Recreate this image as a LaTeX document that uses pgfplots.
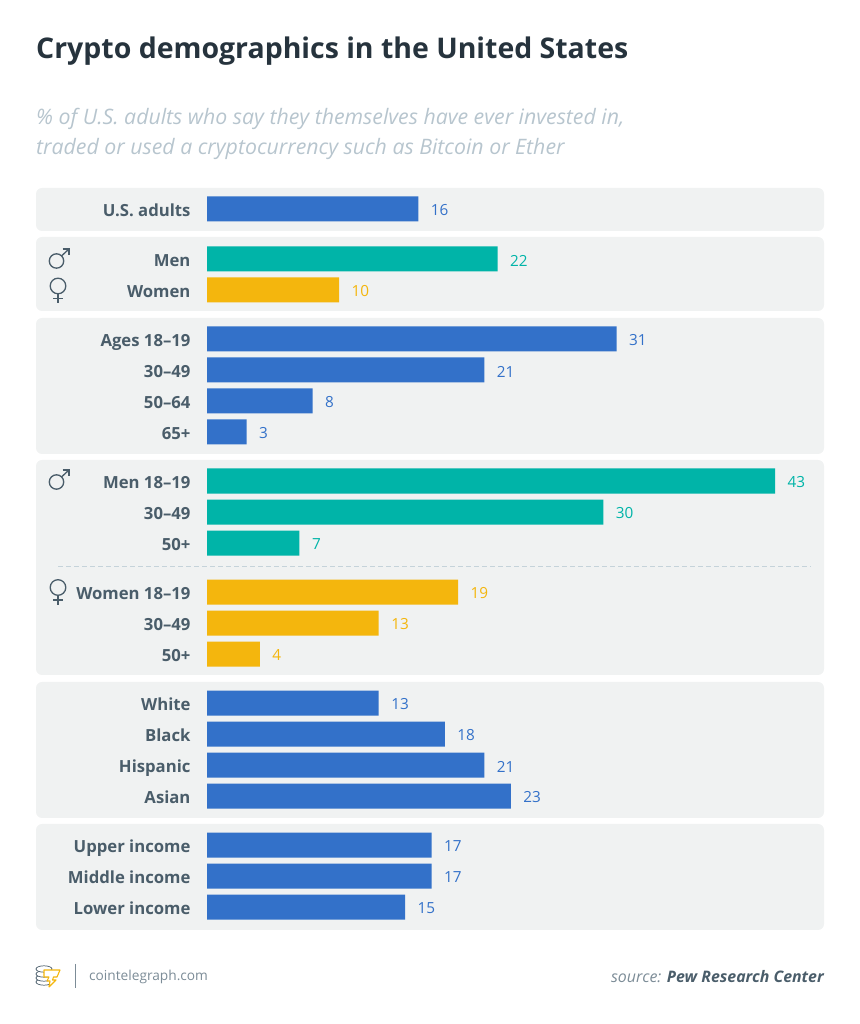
\documentclass[border=0pt]{standalone}
\usepackage{fontspec}
\setmainfont{Open Sans}
\usepackage{pgfplots}
\usepackage{pgfplotstable}
\pgfplotsset{compat=1.18}

\definecolor{cblue}{HTML}{3371C9}
\definecolor{cteal}{HTML}{00B4A8}
\definecolor{cyellow}{HTML}{F4B60D}
\definecolor{panel}{HTML}{F0F2F2}
\definecolor{labelc}{HTML}{4A5D6A}
\definecolor{titlec}{HTML}{26333D}
\definecolor{subc}{HTML}{B7C5CE}
\definecolor{dashc}{HTML}{C5D3DA}
\definecolor{greyc}{HTML}{7C8C97}

% pos = row centre of the bar in the picture
\pgfplotstableread{
pos val
209 16
339 31
370 21
401 8
432 3
703 13
734 18
765 21
796 23
845 17
876 17
907 15
}\blueseries
\pgfplotstableread{
pos val
259 22
481 43
512 30
543 7
}\tealseries
\pgfplotstableread{
pos val
290 10
592 19
623 13
654 4
}\yellowseries

\newcommand{\male}[2]{%
  \draw[labelc,line width=1.3pt] (#1,#2) circle[radius=7.2];
  \draw[labelc,line width=1.3pt] (#1+5,#2-5) -- (#1+12.5,#2-12);
  \draw[labelc,line width=1.3pt] (#1+6,#2-12) -- (#1+12.5,#2-12) -- (#1+12.5,#2-5.5);
}
\newcommand{\female}[2]{%
  \draw[labelc,line width=1.3pt] (#1,#2) circle[radius=7.8];
  \draw[labelc,line width=1.3pt] (#1,#2+7.8) -- (#1,#2+17.5);
  \draw[labelc,line width=1.3pt] (#1-5,#2+12.5) -- (#1+5,#2+12.5);
}

\begin{document}
\begin{tikzpicture}
\begin{scope}[x=1pt,y=-1pt,yshift=1024pt]
  \path[use as bounding box] (0,0) rectangle (859,1024);
  \node[anchor=west,inner sep=0,font=\fontsize{28.45}{32}\selectfont\bfseries,text=titlec] at (36,51) {Crypto demographics in the United States};
  \node[anchor=west,inner sep=0,font=\fontsize{21.3}{26}\selectfont\itshape,text=subc] at (36,118.5) {\% of U.S. adults who say they themselves have ever invested in,};
  \node[anchor=west,inner sep=0,font=\fontsize{21.3}{26}\selectfont\itshape,text=subc] at (36,148.5) {traded or used a cryptocurrency such as Bitcoin or Ether};
  \foreach \a/\b in {188/231,237/311,318/454,460/675,682/818,824/930}
    \fill[panel,rounded corners=6pt] (36,\a) rectangle (824,\b);
  \draw[dashc,line width=1pt,dash pattern=on 5pt off 3pt] (58,567) -- (811,567);
  \male{56.5}{261}
  \female{58}{286}
  \male{56.5}{482}
  \female{58}{587.5}
  % footer
  \foreach \yy in {982,978,974,969}
    \draw[labelc,line width=.7pt,fill=white] (44,\yy) ellipse[x radius=8,y radius=3.2];
  \draw[cyellow,line width=1.1pt,fill=white,line join=round] (44,970) -- (60,970) -- (57,977) -- (53.5,977) -- (52.5,980) -- (56,980) -- (49,987) -- (50,981) -- (47,981) -- (49,977) -- (44,977) -- cycle;
  \draw[greyc,line width=.7pt] (75,964) -- (75,988);
  \node[anchor=west,inner sep=0,font=\fontsize{13.7}{18}\selectfont,text=greyc] at (89,976.5) {cointelegraph.com};
  \node[anchor=east,inner sep=0,font=\fontsize{15.9}{20}\selectfont\itshape,text=labelc] at (824,977) {\textcolor{greyc}{source:} \textbf{Pew Research Center}};
\end{scope}
\begin{axis}[
  at={(207pt,94pt)}, anchor=south west,
  scale only axis, width=620.9pt, height=742pt,
  xbar, bar shift=0pt, bar width=25pt,
  xmin=0, xmax=47, ymin=188, ymax=930,
  y dir=reverse,
  axis line style={draw=none},
  major tick length=0pt,
  xtick=\empty,
  ytick={209,259,290,339,370,401,432,481,512,543,592,623,654,703,734,765,796,845,876,907},
  yticklabels={U.S. adults,Men,Women,Ages 18--19,30--49,50--64,65+,Men 18--19,30--49,50+,Women 18--19,30--49,50+,White,Black,Hispanic,Asian,Upper income,Middle income,Lower income},
  yticklabel style={font=\fontsize{16.7}{18}\selectfont\bfseries,text=labelc,anchor=east,xshift=-13pt,yshift=-2.6pt,text height=12pt,text depth=3pt},
  nodes near coords,
  nodes near coords style={font=\fontsize{15.3}{18}\selectfont,anchor=west,xshift=9pt,yshift=-1.5pt,/pgf/number format/assume math mode=true},
]
\addplot[draw=none,fill=cblue,nodes near coords style={text=cblue}] table[x=val,y=pos] {\blueseries};
\addplot[draw=none,fill=cteal,nodes near coords style={text=cteal}] table[x=val,y=pos] {\tealseries};
\addplot[draw=none,fill=cyellow,nodes near coords style={text=cyellow}] table[x=val,y=pos] {\yellowseries};
\end{axis}
\end{tikzpicture}
\end{document}
